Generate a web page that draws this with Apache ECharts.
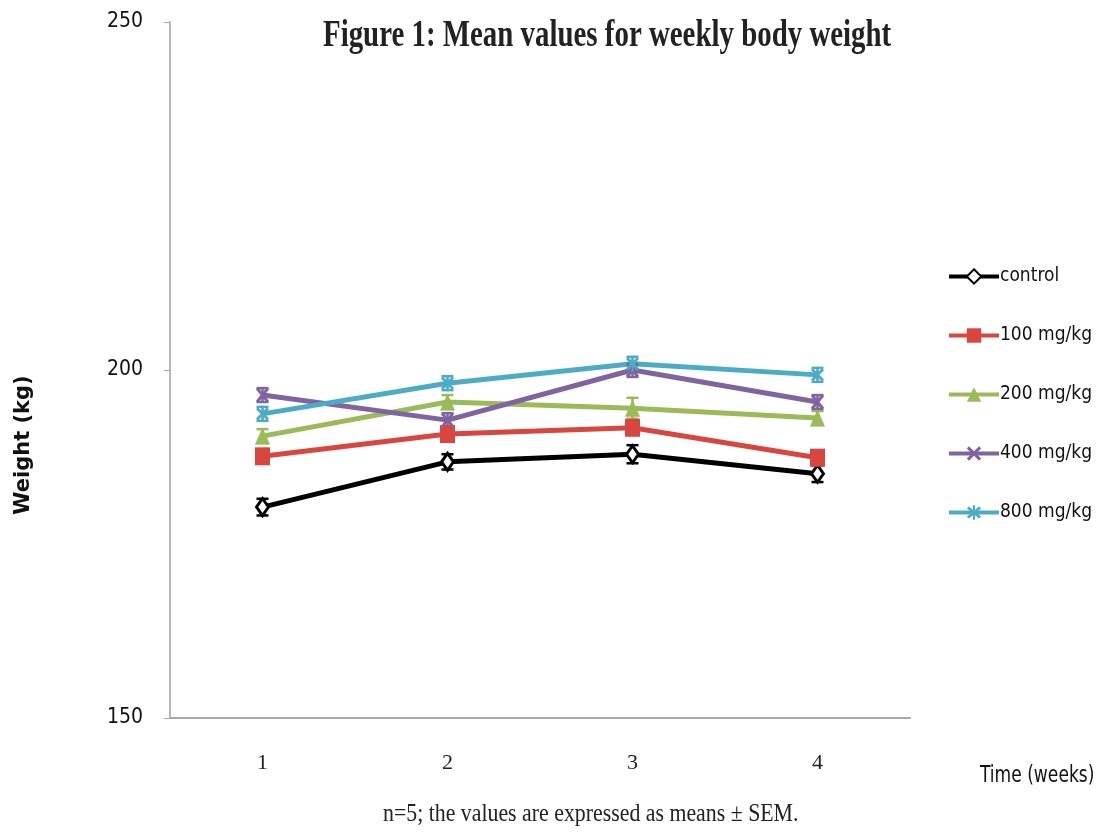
<!DOCTYPE html>
<html><head><meta charset="utf-8">
<script src="https://cdn.jsdelivr.net/npm/echarts@6/dist/echarts.min.js"></script>
<style>html,body{margin:0;padding:0;background:#fff}#c{width:1103px;height:835px}</style>
</head><body><div id="c"></div>
<script>
const weeks = ['1','2','3','4'];
const seriesNames = ['control','100 mg/kg','200 mg/kg','400 mg/kg','800 mg/kg'];
const control = [180.3, 186.8, 187.9, 185.1];
const dose100 = [187.6, 190.8, 191.7, 187.4];
const dose200 = [190.5, 195.4, 194.5, 193.1];
const dose400 = [196.4, 192.8, 200.0, 195.4];
const dose800 = [193.7, 198.1, 200.9, 199.3];
const semControl = [1.2, 1.1, 1.3, 1.2];
const sem100 = [1.0, 1.0, 1.0, 1.0];
const sem200 = [1.0, 1.0, 1.5, 1.0];
const sem400 = [1.0, 1.0, 1.0, 1.0];
const sem800 = [1.0, 1.0, 1.0, 1.0];
const yTicks = [150, 200, 250];
const titleText = 'Figure 1: Mean values for weekly body weight';
const xName = 'Time (weeks)';
const yName = 'Weight (kg)';
const footnote = 'n=5; the values are expressed as means ± SEM.';

const values = [control, dose100, dose200, dose400, dose800];
const sems = [semControl, sem100, sem200, sem400, sem800];
const colors = ['#000000', '#d9463f', '#9bbb59', '#8064a2', '#4bacc6'];
const xPath = 'path://M0,1.5 L1.5,0 L5,3.5 L8.5,0 L10,1.5 L6.5,5 L10,8.5 L8.5,10 L5,6.5 L1.5,10 L0,8.5 L3.5,5 Z';
const starPath = 'path://M0,1.5 L1.5,0 L5,3.5 L8.5,0 L10,1.5 L6.5,5 L10,8.5 L8.5,10 L5,6.5 L1.5,10 L0,8.5 L3.5,5 Z M4.3,-1 L5.7,-1 L5.7,11 L4.3,11 Z';
const symbols = ['diamond', 'rect', 'triangle', xPath, starPath];
const symbolSizes = [[12, 17], [15, 18], [15, 17], [13, 16], [13, 16]];
const condSans = '"DejaVu Sans Condensed", "Liberation Sans Narrow", "Arial Narrow", sans-serif';
const serif = '"Liberation Serif", "Times New Roman", serif';

const chart = echarts.init(document.getElementById('c'));
const series = [];
values.forEach((vals, i) => {
  series.push({
    type: 'custom',
    name: seriesNames[i] + ' SEM',
    z: 2,
    silent: true,
    data: vals.map((v, j) => [j, v - sems[i][j], v + sems[i][j]]),
    renderItem: function (params, api) {
      const x = api.value(0);
      const lo = api.coord([x, api.value(1)]);
      const hi = api.coord([x, api.value(2)]);
      const hw = 6;
      const st = { stroke: colors[i], lineWidth: 2.5 };
      return { type: 'group', children: [
        { type: 'line', shape: { x1: lo[0], y1: lo[1], x2: hi[0], y2: hi[1] }, style: st },
        { type: 'line', shape: { x1: lo[0] - hw, y1: lo[1], x2: lo[0] + hw, y2: lo[1] }, style: st },
        { type: 'line', shape: { x1: hi[0] - hw, y1: hi[1], x2: hi[0] + hw, y2: hi[1] }, style: st }
      ]};
    }
  });
});
values.forEach((vals, i) => {
  series.push({
    type: 'line',
    name: seriesNames[i],
    data: vals,
    z: 3,
    symbol: symbols[i],
    symbolSize: symbolSizes[i],
    showAllSymbol: true,
    lineStyle: { color: colors[i], width: 5 },
    itemStyle: i === 0 ? { color: '#ffffff', borderColor: '#000', borderWidth: 3 } : { color: colors[i] },
    emphasis: { disabled: true }
  });
});

chart.setOption({
  animation: false,
  legend: {
    orient: 'vertical',
    left: 942, top: 262,
    data: seriesNames,
    itemWidth: 50, itemHeight: 18, itemGap: 40,
    lineStyle: { width: 4 },
    textStyle: { fontFamily: condSans, fontSize: 19, color: '#111', padding: [0,0,0,-4] }
  },
  grid: { left: 170, right: 193, top: 22, bottom: 117, containLabel: false, outerBoundsMode: 'none' },
  xAxis: {
    type: 'category',
    data: weeks,
    boundaryGap: true,
    axisLine: { lineStyle: { color: '#a8a8a8', width: 2 } },
    axisTick: { length: 9, lineStyle: { color: '#a8a8a8', width: 1.5 } },
    axisLabel: { margin: 34, fontFamily: serif, fontSize: 22, color: '#222' }
  },
  yAxis: {
    type: 'value',
    min: 150, max: 250, interval: 50,
    name: yName,
    nameLocation: 'middle',
    nameGap: 136,
    nameRotate: 90,
    nameTextStyle: { fontFamily: 'DejaVu Sans, sans-serif', fontWeight: 'bold', fontSize: 21, color: '#111', padding: [0,0,0,-150] },
    axisLine: { show: true, lineStyle: { color: '#b8b8b8', width: 2 } },
    axisTick: { show: true, length: 6, lineStyle: { color: '#a8a8a8' } },
    splitLine: { show: false },
    axisLabel: { margin: 27, fontFamily: condSans, fontSize: 21, color: '#111',
      formatter: v => yTicks.indexOf(v) >= 0 ? String(v) : '' }
  },
  graphic: [
    { type: 'text', x: 323, y: 17, scaleX: 0.76,
      style: { text: titleText, fontFamily: serif, fontWeight: 'bold', fontSize: 38, fill: '#222' } },
    { type: 'text', x: 980, y: 765, scaleY: 1.2,
      style: { text: xName, fontFamily: condSans, fontSize: 19, fill: '#111' } },
    { type: 'text', x: 383, y: 801, scaleX: 0.84,
      style: { text: footnote, fontFamily: serif, fontSize: 26, fill: '#222' } }
  ],
  series: series
});
</script></body></html>
